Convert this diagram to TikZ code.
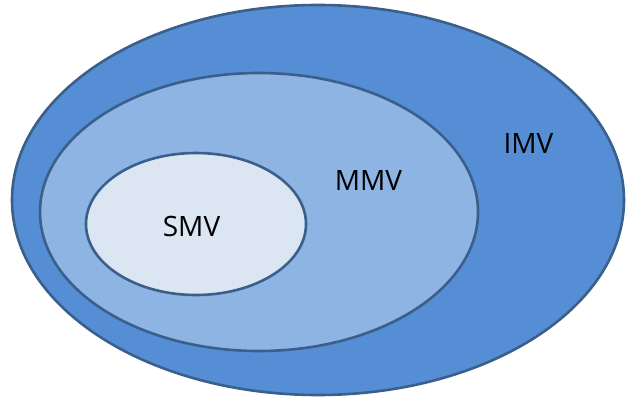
\documentclass[tikz,border=0pt]{standalone}
\usepackage{fontspec}
\setmainfont{Open Sans}
\usetikzlibrary{shapes.geometric}
\definecolor{rimblue}{HTML}{3A5F8B}
\definecolor{outerblue}{HTML}{558ED5}
\definecolor{midblue}{HTML}{8EB4E3}
\definecolor{innerblue}{HTML}{DCE6F2}
\tikzset{
  region/.style={ellipse, draw=rimblue, line width=2.6pt, inner sep=0pt},
  tag/.style={font=\fontsize{28}{30}\selectfont, text=black, inner sep=0pt}
}
\begin{document}
\begin{tikzpicture}[x=1pt,y=1pt]
  \useasboundingbox (0,0) rectangle (626,400);
  \node[region, fill=outerblue, minimum width=612pt, minimum height=390pt] (imv) at (318,200) {};
  \node[region, fill=midblue, minimum width=438pt, minimum height=278pt] (mmv) at (259,188) {};
  \node[region, fill=innerblue, minimum width=220pt, minimum height=142pt] (smv) at (196,176) {};
  \node[tag] (imvlabel) at (528.5,256.5) {IMV};
  \node[tag] (mmvlabel) at (368.5,219.5) {MMV};
  \node[tag] (smvlabel) at (191.5,174) {SMV};
\end{tikzpicture}
\end{document}
